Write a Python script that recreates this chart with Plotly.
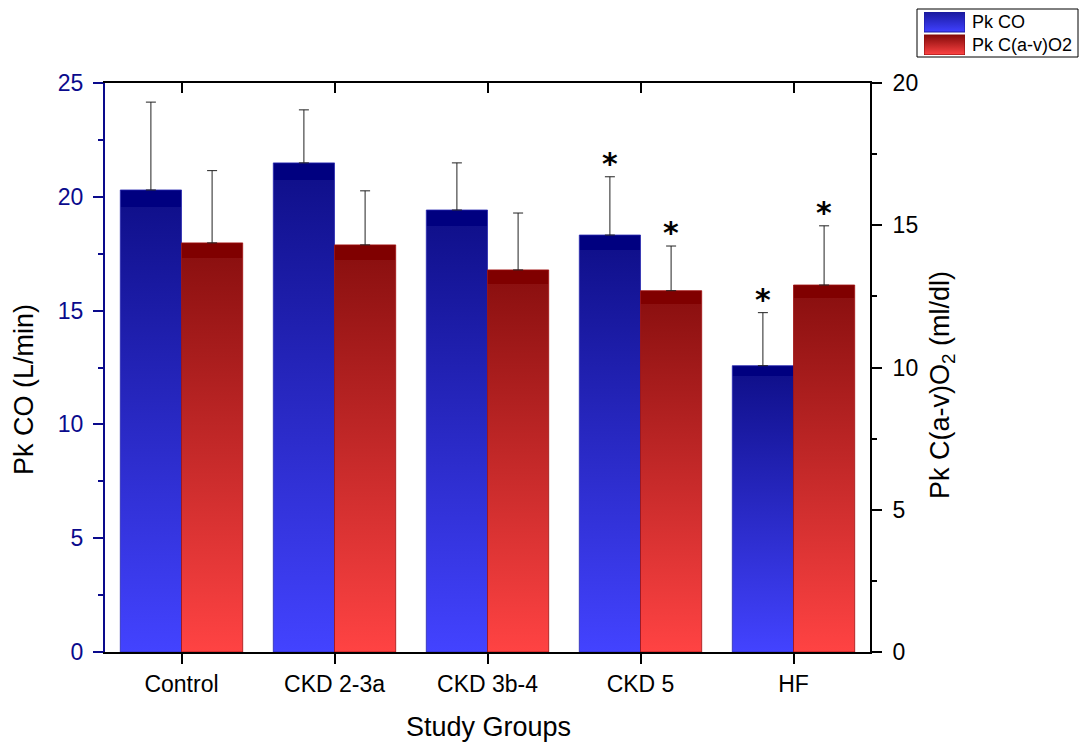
import plotly.graph_objects as go

# Peak exercise data by study group
groups = ["Control", "CKD 2-3a", "CKD 3b-4", "CKD 5", "HF"]
pk_co = [20.30, 21.49, 19.42, 18.32, 12.58]          # L/min (left axis)
pk_co_sd = [3.86, 2.33, 2.07, 2.56, 2.33]
pk_avo2 = [14.38, 14.31, 13.43, 12.70, 12.90]        # ml/dl (right axis)
pk_avo2_sd = [2.54, 1.90, 2.00, 1.57, 2.08]
co_sig = [False, False, False, True, True]
avo2_sig = [False, False, False, True, True]
series_names = ["Pk CO", "Pk C(a-v)O2"]

W, H = 1083, 745
BAR_W = 0.4
FONT = "Arial, Liberation Sans, sans-serif"
NAVY = "#0a0a8c"

# plot frame in pixels
PX_L, PX_R, PX_T, PX_B = 105, 870, 83, 652

blue_scale = [[0.0, "#4343ff"], [0.964, "#10108c"], [0.964, "#000080"], [1.0, "#000080"]]
red_scale = [[0.0, "#ff4343"], [0.964, "#8c1010"], [0.964, "#800000"], [1.0, "#800000"]]
blue_key = [[0.0, "#4040ff"], [1.0, "#1a1a9e"]]
red_key = [[0.0, "#ff4444"], [1.0, "#840a0a"]]

fig = go.Figure()


def add_poly(xs, ys, scale, edge, xaxis, yaxis, width=0.8):
    fig.add_trace(go.Scatter(
        x=xs, y=ys, mode="lines", fill="toself",
        fillgradient=dict(type="vertical", colorscale=scale),
        line=dict(color=edge, width=width),
        showlegend=False, xaxis=xaxis, yaxis=yaxis, hoverinfo="skip",
    ))


def add_bar(x0, x1, v, scale, edge, yaxis):
    add_poly([x0, x0, x1, x1, x0], [0, v, v, 0, 0], scale, edge, "x", yaxis)


for i, g in enumerate(groups):
    add_bar(i - BAR_W, i, pk_co[i], blue_scale, "#2a2ab0", "y")
    add_bar(i, i + BAR_W, pk_avo2[i], red_scale, "#a01010", "y2")

# Upper error whiskers
err_style = dict(type="data", symmetric=False, color="#222222", thickness=1, width=5)
fig.add_trace(go.Scatter(
    x=[i - BAR_W / 2 for i in range(len(groups))], y=pk_co, mode="markers",
    marker=dict(size=1, opacity=0), showlegend=False, hoverinfo="skip",
    error_y=dict(array=pk_co_sd, arrayminus=[0] * len(groups), **err_style),
))
fig.add_trace(go.Scatter(
    x=[i + BAR_W / 2 for i in range(len(groups))], y=pk_avo2, mode="markers",
    marker=dict(size=1, opacity=0), showlegend=False, hoverinfo="skip", yaxis="y2",
    error_y=dict(array=pk_avo2_sd, arrayminus=[0] * len(groups), **err_style),
))

# Significance markers above whiskers
star_font = dict(family="DejaVu Sans, Arial, sans-serif", size=30, color="black")
for i in range(len(groups)):
    if co_sig[i]:
        fig.add_annotation(x=i - BAR_W / 2, y=pk_co[i] + pk_co_sd[i], yref="y",
                           text="<b>*</b>", showarrow=False, yanchor="bottom", yshift=-6,
                           font=star_font)
    if avo2_sig[i]:
        fig.add_annotation(x=i + BAR_W / 2, y=pk_avo2[i] + pk_avo2_sd[i], yref="y2",
                           text="<b>*</b>", showarrow=False, yanchor="bottom", yshift=-6,
                           font=star_font)

# Top frame line with inward ticks
fig.add_trace(go.Scatter(x=[0], y=[0], xaxis="x2", mode="markers",
                         marker=dict(opacity=0), showlegend=False, hoverinfo="skip"))

# Legend key: gradient swatches on a small helper axis (top row first)
add_poly([0, 0, 1, 1, 0], [1.15, 2.15, 2.15, 1.15, 1.15], blue_key, "#1a1a9e", "x3", "y3", 1)
add_poly([0, 0, 1, 1, 0], [0, 1, 1, 0, 0], red_key, "#840a0a", "x3", "y3", 1)

fig.add_shape(type="rect", xref="paper", yref="paper",
              x0=917 / W, x1=1078 / W, y0=1 - 57 / H, y1=1 - 9 / H,
              line=dict(color="black", width=1), fillcolor="rgba(0,0,0,0)", layer="below")
for k, name in enumerate(series_names):
    fig.add_annotation(xref="paper", yref="paper", x=970 / W, y=1 - (22 + 23 * k) / H,
                       xanchor="left", yanchor="middle", text=name, showarrow=False,
                       font=dict(family=FONT, size=18, color="black"))

# Axis titles
title_font = dict(family=FONT, size=27, color="black")
fig.add_annotation(xref="paper", yref="paper", x=24 / W, y=1 - 390 / H, text="Pk CO (L/min)",
                   textangle=-90, showarrow=False, xanchor="center", yanchor="middle",
                   font=title_font)
fig.add_annotation(xref="paper", yref="paper", x=942 / W, y=1 - 385 / H,
                   text="Pk C(a-v)O<sub>2</sub> (ml/dl)", textangle=-90, showarrow=False,
                   xanchor="center", yanchor="middle", font=title_font)
fig.add_annotation(xref="paper", yref="paper", x=488 / W, y=1 - 727 / H, text="Study Groups",
                   showarrow=False, xanchor="center", yanchor="middle", font=title_font)

xdom = [PX_L / W, PX_R / W]
ydom = [1 - PX_B / H, 1 - PX_T / H]
xrange = [-0.5, len(groups) - 0.5]
fig.update_layout(
    width=W, height=H,
    margin=dict(l=0, r=0, t=0, b=0, autoexpand=False),
    paper_bgcolor="white", plot_bgcolor="white",
    font=dict(family=FONT, color="black"),
    showlegend=False,
    xaxis=dict(
        domain=xdom, range=xrange, tickvals=list(range(len(groups))), ticktext=groups,
        showgrid=False, zeroline=False, showline=True, linecolor="black", linewidth=2,
        ticks="outside", ticklen=10, tickwidth=2, tickcolor="black", automargin=False,
        tickfont=dict(size=23), ticklabelstandoff=0,
    ),
    xaxis2=dict(
        domain=xdom, overlaying="x", side="top", range=xrange, tickvals=list(range(len(groups))),
        showticklabels=False, showgrid=False, zeroline=False, showline=True, automargin=False,
        linecolor="black", linewidth=2, ticks="inside", ticklen=10, tickwidth=2, tickcolor="black",
    ),
    yaxis=dict(
        domain=ydom, range=[0, 25], tickvals=[0, 5, 10, 15, 20, 25], showgrid=False,
        zeroline=False, automargin=False,
        showline=True, linecolor=NAVY, linewidth=2, ticks="outside", ticklen=10,
        tickwidth=2, tickcolor=NAVY, tickfont=dict(size=23, color=NAVY), ticklabelstandoff=5,
        minor=dict(tickvals=[2.5, 7.5, 12.5, 17.5, 22.5], ticks="outside", ticklen=5,
                   tickwidth=2, tickcolor=NAVY, showgrid=False),
    ),
    yaxis2=dict(
        overlaying="y", side="right", range=[0, 20], tickvals=[0, 5, 10, 15, 20],
        showgrid=False, zeroline=False, showline=True, linecolor="black", linewidth=2,
        automargin=False, ticklabelstandoff=6,
        ticks="outside", ticklen=10, tickwidth=2, tickcolor="black", tickfont=dict(size=23),
        minor=dict(tickvals=[2.5, 7.5, 12.5, 17.5], ticks="outside", ticklen=5,
                   tickwidth=2, tickcolor="black", showgrid=False),
    ),
    xaxis3=dict(domain=[924 / W, 965 / W], range=[0, 1], visible=False, fixedrange=True,
                anchor="y3"),
    yaxis3=dict(domain=[1 - 55 / H, 1 - 12 / H], range=[0, 2.15], visible=False,
                anchor="x3", fixedrange=True),
)

fig.write_html("out.html")
